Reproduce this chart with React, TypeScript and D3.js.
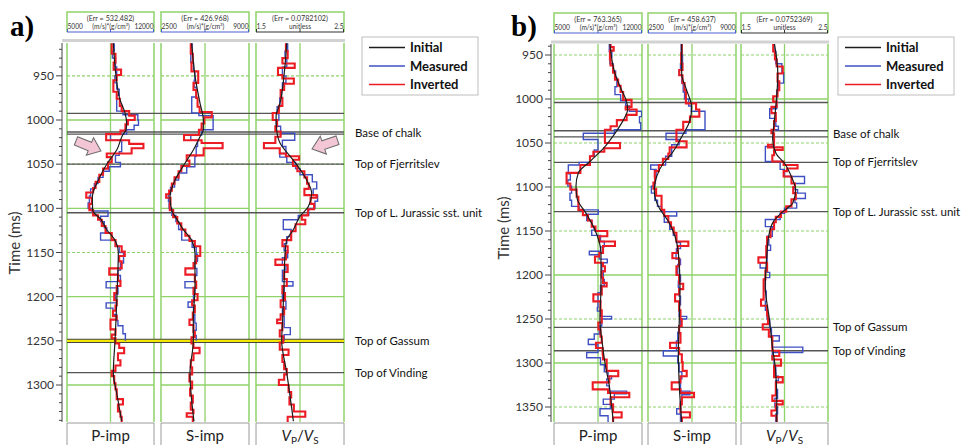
import React from 'react';
import * as d3 from 'd3';

type Pt = [number, number]; // [time ms, value]

// ---- panel a ----
const aPimpInitial: Pt[] = [[913,8728],[950,8943],[977,9265],[992,9667],[1004,9800],[1011,9750],[1017,9480],[1034,9000],[1049,8245],[1068,7520],[1087,7040],[1102,7065],[1113,7750],[1124,8190],[1136,8862],[1150,9130],[1188,9050],[1226,8943],[1250,8862],[1286,8728],[1313,9050],[1341,9400]];
const aPimpMeasured: Pt[] = [[913,8800],[922,8650],[930,8900],[940,9000],[950,8850],[958,9000],[965,9200],[972,9000],[990,9500],[994,10700],[1000,10750],[1006,10400],[1011,9800],[1016,8500],[1023,9400],[1036,9200],[1040,8900],[1048,9300],[1053,8400],[1058,7900],[1065,7500],[1072,7200],[1078,6900],[1086,6800],[1094,6700],[1100,7000],[1103,8300],[1109,7700],[1115,8000],[1122,8200],[1128,7700],[1136,8900],[1143,9200],[1150,9550],[1162,9300],[1170,9100],[1176,9300],[1183,8150],[1190,9100],[1197,8900],[1204,9000],[1207,8150],[1213,8700],[1220,9000],[1227,9100],[1233,9500],[1242,9700]];
const aPimpInverted: Pt[] = [[913,8600],[925,8900],[935,8750],[943,9350],[949,9000],[955,8730],[968,9000],[976,9250],[984,9400],[990,10000],[995,10450],[1000,9900],[1005,9700],[1012,9300],[1016,8150],[1023,10000],[1027,11150],[1032,10200],[1038,8200],[1042,8600],[1048,8300],[1055,7900],[1062,7600],[1070,7300],[1077,7100],[1082,6550],[1088,7000],[1095,6800],[1102,7100],[1108,7500],[1113,7800],[1120,8100],[1128,8600],[1136,8900],[1143,9400],[1149,9650],[1154,9200],[1160,9400],[1168,8400],[1175,9100],[1182,9300],[1188,9000],[1196,8800],[1204,9000],[1210,8900],[1216,8700],[1222,9000],[1226,8500],[1237,8900],[1243,8600],[1247,8900],[1253,9200],[1258,9600],[1264,9100],[1272,9300],[1278,8900],[1284,8600],[1290,8800],[1298,8900],[1305,9000],[1316,9500],[1322,9100],[1330,9300],[1336,9400]];

const aSimpInitial: Pt[] = [[913,4765],[950,5011],[981,5380],[1000,5627],[1011,5627],[1019,5380],[1034,4888],[1049,4272],[1068,3534],[1087,3165],[1102,3288],[1113,3700],[1124,4149],[1136,4765],[1151,5011],[1188,5011],[1226,4888],[1250,4888],[1286,4642],[1341,4937]];
const aSimpMeasured: Pt[] = [[913,4800],[925,4700],[935,4900],[945,5000],[955,4950],[963,5100],[974,4770],[992,5300],[995,6350],[1011,5500],[1017,4700],[1023,5200],[1030,5100],[1041,5000],[1053,4400],[1060,3800],[1068,3500],[1076,3200],[1084,3050],[1092,3100],[1100,3300],[1108,3600],[1115,3800],[1124,4030],[1136,4800],[1144,5100],[1152,5200],[1160,5000],[1168,5150],[1176,5000],[1183,4270],[1190,5000],[1198,4900],[1206,4500],[1212,4900],[1220,5000],[1230,5100],[1238,4950],[1244,5100]];
const aSimpInverted: Pt[] = [[913,4700],[925,4850],[935,4750],[945,5250],[958,4900],[966,5100],[975,5200],[985,5350],[991,6250],[997,5700],[1004,5500],[1011,5300],[1017,4200],[1023,5500],[1026,7050],[1032,5650],[1040,4400],[1046,4600],[1052,4000],[1058,3800],[1065,3500],[1072,3300],[1080,3100],[1084,2880],[1088,3200],[1095,3150],[1102,3400],[1110,3700],[1117,4000],[1124,4300],[1131,4600],[1137,5000],[1143,5400],[1154,5100],[1162,4900],[1168,4300],[1175,5000],[1183,5100],[1190,4900],[1197,5200],[1204,4800],[1210,5000],[1218,4850],[1226,4600],[1232,4900],[1240,5000],[1246,4750],[1253,4900],[1258,5350],[1264,4900],[1272,4700],[1280,4800],[1288,4600],[1296,4800],[1304,4650],[1312,4850],[1320,4700],[1328,4900],[1332,4400],[1336,4850]];

const aVpvsInitial: Pt[] = [[913,1.849],[950,1.818],[981,1.773],[996,1.728],[1011,1.735],[1026,1.773],[1041,1.887],[1053,1.981],[1068,2.076],[1083,2.133],[1098,2.095],[1109,2.0],[1124,1.925],[1136,1.849],[1151,1.83],[1188,1.818],[1226,1.803],[1250,1.792],[1286,1.849],[1341,1.925]];
const aVpvsMeasured: Pt[] = [[913,1.86],[922,1.83],[930,1.85],[940,1.8],[950,1.84],[958,1.8],[966,1.79],[975,1.77],[985,1.74],[993,1.76],[1000,1.73],[1007,1.78],[1015,1.94],[1023,1.8],[1030,1.84],[1038,1.77],[1042,1.85],[1048,1.95],[1055,2.0],[1062,2.14],[1070,2.19],[1078,2.15],[1085,2.2],[1092,2.17],[1100,2.1],[1108,1.98],[1113,1.81],[1124,1.9],[1132,1.85],[1140,1.82],[1148,1.86],[1156,1.8],[1164,1.84],[1170,1.8],[1183,1.92],[1188,1.82],[1196,1.8],[1205,1.84],[1214,1.8],[1222,1.82],[1235,1.89],[1243,1.82]];
const aVpvsInverted: Pt[] = [[913,1.84],[922,1.86],[930,1.8],[936,1.94],[941,1.75],[949,1.8],[953,1.93],[959,1.82],[966,1.78],[975,1.8],[984,1.76],[992,1.69],[1000,1.74],[1007,1.72],[1013,1.78],[1019,1.72],[1026,1.59],[1032,1.77],[1038,1.84],[1041,1.99],[1045,1.92],[1052,1.97],[1058,2.05],[1065,2.08],[1072,2.1],[1078,2.05],[1085,2.19],[1088,2.12],[1095,2.16],[1101,2.09],[1108,2.02],[1113,2.06],[1118,1.95],[1126,1.9],[1136,1.8],[1143,1.86],[1150,1.84],[1158,1.72],[1164,1.86],[1172,1.82],[1180,1.85],[1188,1.8],[1196,1.83],[1204,1.78],[1212,1.82],[1220,1.78],[1226,1.74],[1230,1.8],[1238,1.77],[1245,1.81],[1252,1.77],[1260,1.87],[1266,1.8],[1274,1.82],[1282,1.85],[1288,1.82],[1294,1.76],[1300,1.87],[1308,1.9],[1314,1.88],[1322,1.93],[1330,2.06],[1336,1.86]];

// ---- panel b ----
const bPimpInitial: Pt[] = [[937,9452],[971,9850],[990,10380],[1003,10777],[1012,10856],[1024,10512],[1039,9850],[1054,9055],[1071,7862],[1084,6935],[1099,6749],[1114,6855],[1128,7465],[1147,8200],[1175,8737],[1213,8737],[1250,8657],[1281,8869],[1300,9055],[1326,9399],[1349,9585],[1367,9717]];
const bPimpMeasured: Pt[] = [[937,9400],[946,9600],[952,9450],[960,9700],[968,9900],[976,10000],[986,9850],[995,10300],[1002,10700],[1008,11000],[1014,11970],[1020,11800],[1027,11900],[1035,9800],[1039,7330],[1046,8500],[1058,8200],[1065,7860],[1072,7000],[1075,6140],[1085,6300],[1092,6100],[1099,6400],[1107,6270],[1115,6400],[1122,7000],[1126,8520],[1131,7600],[1138,8000],[1145,8200],[1149,8000],[1155,8700],[1162,9000],[1168,8700],[1173,7810],[1177,8600],[1182,9240],[1186,8800],[1195,8920],[1205,9000],[1212,8700],[1220,8500],[1237,8450],[1241,8700],[1247,9580],[1250,8800],[1258,8600],[1267,8200],[1273,7730],[1279,8500],[1288,7600],[1294,8700],[1302,9000],[1310,9300],[1315,9580],[1318,9200],[1326,9400],[1332,10780],[1335,9800],[1341,8920],[1347,9500],[1352,8660],[1360,9300]];
const bPimpInverted: Pt[] = [[937,9500],[941,9750],[945,9450],[955,9500],[962,9700],[970,9850],[978,10100],[985,10300],[992,10500],[1001,11170],[1009,10700],[1012,11570],[1018,10780],[1024,10000],[1031,9500],[1035,9050],[1050,10250],[1056,9000],[1060,8130],[1065,7860],[1075,7100],[1084,6000],[1096,6300],[1103,6800],[1111,6940],[1126,7300],[1132,7700],[1138,8000],[1145,8300],[1150,9240],[1156,8600],[1162,9850],[1167,8900],[1175,8600],[1179,8260],[1186,8900],[1190,9050],[1196,8800],[1203,8900],[1209,9190],[1213,8800],[1222,8130],[1230,8700],[1240,8800],[1254,8530],[1262,8700],[1270,8800],[1277,8340],[1283,8870],[1290,8900],[1296,9190],[1309,10110],[1315,9400],[1322,8080],[1330,9300],[1334,10990],[1339,9500],[1347,9700],[1356,10380],[1362,9700]];

const bSimpInitial: Pt[] = [[937,4987],[971,4987],[990,5356],[1009,5725],[1024,5602],[1043,4987],[1062,4248],[1073,3632],[1088,3140],[1103,2968],[1122,3263],[1139,4000],[1156,4494],[1175,4740],[1213,4863],[1250,4814],[1288,4740],[1326,4814],[1367,4987]];
const bSimpMeasured: Pt[] = [[937,4950],[950,5050],[960,4900],[967,4800],[973,5000],[982,5100],[992,5200],[1000,5500],[1008,5700],[1014,6710],[1035,5300],[1039,3830],[1046,4800],[1052,4250],[1065,3800],[1075,2700],[1080,3100],[1088,3000],[1099,2750],[1107,3000],[1115,3200],[1122,3500],[1128,4620],[1133,3700],[1140,4100],[1148,4370],[1155,4600],[1163,4900],[1170,4600],[1175,4570],[1182,4900],[1188,4700],[1200,4900],[1207,4740],[1214,4800],[1224,4900],[1234,4800],[1247,5360],[1250,4900],[1258,4800],[1265,4700],[1275,4600],[1286,3630],[1292,4700],[1300,4800],[1310,5000],[1318,4900],[1332,5600],[1336,5000],[1344,4900],[1352,4620],[1358,4900]];
const bSimpInverted: Pt[] = [[937,5000],[948,4950],[960,5050],[967,4810],[973,5050],[982,5200],[990,5300],[1005,6050],[1012,6290],[1020,5600],[1026,5100],[1035,4600],[1048,5350],[1055,4100],[1062,4000],[1068,3600],[1075,3300],[1082,3000],[1089,3020],[1095,2900],[1102,3100],[1110,3500],[1126,3700],[1133,4000],[1140,4200],[1146,4400],[1152,4600],[1162,5480],[1167,4700],[1175,4300],[1181,4800],[1190,4600],[1200,4800],[1210,5100],[1216,4800],[1222,4500],[1230,4800],[1240,4900],[1250,4990],[1258,4800],[1266,4900],[1277,4130],[1283,4800],[1290,5000],[1299,5060],[1309,5360],[1315,4900],[1322,4250],[1330,4900],[1334,5900],[1339,5000],[1347,4900],[1356,5600],[1362,5000]];

const bVpvsInitial: Pt[] = [[937,1.884],[971,1.923],[997,1.911],[1024,1.884],[1046,1.864],[1062,1.903],[1073,2.0],[1088,2.078],[1103,2.128],[1118,2.097],[1128,1.981],[1139,1.874],[1156,1.818],[1175,1.799],[1213,1.779],[1250,1.826],[1284,1.864],[1307,1.896],[1341,1.911],[1367,1.911]];
const bVpvsMeasured: Pt[] = [[937,1.88],[946,1.9],[960,1.97],[970,1.99],[982,1.93],[990,1.91],[1011,1.83],[1022,1.9],[1031,1.93],[1035,1.87],[1044,1.88],[1054,1.78],[1071,1.95],[1080,2.0],[1088,2.23],[1096,2.12],[1103,2.15],[1107,2.24],[1113,2.12],[1118,2.14],[1124,2.0],[1130,1.95],[1137,1.78],[1145,1.86],[1156,1.8],[1160,1.82],[1166,1.84],[1172,1.8],[1186,1.72],[1192,1.8],[1197,1.83],[1203,1.78],[1218,1.79],[1230,1.78],[1240,1.8],[1250,1.83],[1260,1.85],[1269,1.94],[1275,1.86],[1282,2.21],[1288,1.86],[1296,1.88],[1305,1.9],[1315,1.93],[1320,1.9],[1330,1.92],[1340,1.89],[1350,1.92],[1358,1.9]];
const bVpvsInverted: Pt[] = [[937,1.87],[946,1.89],[955,1.91],[963,1.98],[971,1.92],[980,1.94],[990,1.92],[997,1.87],[1003,1.91],[1009,1.85],[1016,1.9],[1025,1.88],[1035,1.85],[1039,1.88],[1052,1.81],[1055,1.98],[1058,1.88],[1064,1.86],[1071,1.99],[1075,2.15],[1079,2.03],[1082,1.99],[1088,2.08],[1096,2.12],[1100,2.1],[1107,2.13],[1114,2.08],[1122,2.02],[1128,1.96],[1134,1.9],[1140,1.88],[1148,1.84],[1157,1.8],[1167,1.79],[1180,1.7],[1186,1.8],[1195,1.78],[1205,1.76],[1228,1.73],[1235,1.8],[1246,1.81],[1256,1.75],[1262,1.82],[1270,1.86],[1286,1.94],[1292,1.86],[1296,1.96],[1303,1.88],[1316,1.98],[1322,1.9],[1337,1.86],[1343,1.98],[1347,1.9],[1354,1.85],[1360,1.91]];

// horizons (ms)
const aHorizons = [992.5, 1013.5, 1016, 1050, 1105, 1286];
const aGassum = 1250;
const aMarkers: [string, number][] = [['Base of chalk', 1015], ['Top of Fjerritslev', 1050], ['Top of L. Jurassic sst. unit', 1105], ['Top of Gassum', 1250], ['Top of Vinding', 1286]];
const bHorizons = [1004, 1036, 1043, 1072, 1128, 1259.5, 1286];
const bMarkers: [string, number][] = [['Base of chalk', 1040], ['Top of Fjerritslev', 1072], ['Top of L. Jurassic sst. unit', 1128], ['Top of Gassum', 1259.5], ['Top of Vinding', 1286]];

const aErr = ['532.482', '426.968', '0.0782102'];
const bErr = ['763.365', '458.637', '0.0752369'];
const trackDomains: [number, number][] = [[5000, 12000], [2500, 9000], [1.5, 2.5]];
const trackUnits = ['(m/s)*(g/cm³)', '(m/s)*(g/cm³)', 'unitless'];
const legendNames = ['Initial', 'Measured', 'Inverted'];

const FONT = 'Lato, "Open Sans", sans-serif';
const GREEN = '#8fd26a';
const RED = '#ec1c24';
const BLUE = '#3e50c2';
const BLACK = '#1c1c1c';
const AXBLUE = '#4a5fd0';

type TrackCfg = { left: number; right: number; initial: Pt[]; measured: Pt[]; inverted: Pt[] };
type PanelCfg = {
  id: string; label: string; labelX: number; axisX: number;
  y: d3.ScaleLinear<number, number>; top: number; bottom: number;
  hTop: number; hAxis: number; barY: number;
  tracks: TrackCfg[]; err: string[]; measuredEnd: number;
  horizons: number[]; gassum?: number; markers: [string, number][]; markerX: number;
  legendX: number; timeLabelY: number; arrows?: { x: number; y: number; a: number }[];
};

const panels: PanelCfg[] = [
  {
    id: 'a', label: 'a)', labelX: 10, axisX: 62,
    y: d3.scaleLinear().domain([1000, 1300]).range([120, 385]), top: 43, bottom: 422,
    hTop: 12, hAxis: 32, barY: 40.5,
    tracks: [
      { left: 67, right: 154, initial: aPimpInitial, measured: aPimpMeasured, inverted: aPimpInverted },
      { left: 161, right: 249, initial: aSimpInitial, measured: aSimpMeasured, inverted: aSimpInverted },
      { left: 256, right: 344, initial: aVpvsInitial, measured: aVpvsMeasured, inverted: aVpvsInverted },
    ],
    err: aErr, measuredEnd: 1250, horizons: aHorizons, gassum: aGassum, markers: aMarkers, markerX: 355,
    legendX: 362, timeLabelY: 243,
    arrows: [{ x: 101, y: 151, a: 22 }, { x: 312, y: 149, a: 161 }],
  },
  {
    id: 'b', label: 'b)', labelX: 511, axisX: 551,
    y: d3.scaleLinear().domain([1000, 1350]).range([99, 407]), top: 44, bottom: 422,
    hTop: 13, hAxis: 33, barY: 42,
    tracks: [
      { left: 554, right: 642, initial: bPimpInitial, measured: bPimpMeasured, inverted: bPimpInverted },
      { left: 648, right: 736, initial: bSimpInitial, measured: bSimpMeasured, inverted: bSimpInverted },
      { left: 741, right: 828, initial: bVpvsInitial, measured: bVpvsMeasured, inverted: bVpvsInverted },
    ],
    err: bErr, measuredEnd: 0, horizons: bHorizons, markers: bMarkers, markerX: 833,
    legendX: 838, timeLabelY: 228,
  },
];

const arrowPath = 'M-27,-4.5L-12,-4.5L-12,-9.5L0,0L-12,9.5L-12,4.5L-27,4.5Z';

function Panel({ p }: { p: PanelCfg }) {
  const tStart = p.y.invert(p.top);
  const tEnd = p.y.invert(p.bottom);
  const majors = d3.range(950, tEnd, 50);
  const minors = d3.range(Math.ceil(tStart / 10) * 10, tEnd, 10);
  const leftEdge = p.tracks[0].left;
  const rightEdge = p.tracks[2].right;
  return (
    <g>
      <text x={p.labelX} y={36} fontFamily='"Liberation Serif", serif' fontWeight="bold" fontSize={29}>{p.label}</text>

      {/* headers */}
      {p.tracks.map((tr, i) => {
        const mid = (tr.left + tr.right) / 2;
        const ac = i < 2 ? AXBLUE : '#333';
        return (
          <g key={'h' + i} fontFamily={FONT} fill="#333">
            <path d={`M${tr.left},${p.hAxis}V${p.hTop}H${tr.right}V${p.hAxis}`} fill="none" stroke={GREEN} strokeWidth={1.5} />
            <line x1={tr.left} x2={tr.right} y1={p.hAxis} y2={p.hAxis} stroke={ac} strokeWidth={1.2} />
            {[tr.left + 0.5, mid, tr.right - 0.5].map((x, k) => (
              <line key={k} x1={x} x2={x} y1={p.hAxis} y2={p.hAxis - 3} stroke={ac} strokeWidth={1} />
            ))}
            <text x={mid} y={p.hTop + 8.5} fontSize={7.2} textAnchor="middle">(Err = {p.err[i]})</text>
            <text x={tr.left + 0.5} y={p.hTop + 17} fontSize={6.6}>{trackDomains[i][0]}</text>
            <text x={mid + (i < 2 ? 0.5 : 0)} y={p.hTop + 17} fontSize={6.6} textAnchor="middle">{trackUnits[i]}</text>
            <text x={tr.right - 0.5} y={p.hTop + 17} fontSize={6.6} textAnchor="end">{trackDomains[i][1]}</text>
          </g>
        );
      })}
      <line x1={p.axisX} x2={rightEdge + 1} y1={p.barY} y2={p.barY} stroke="#d2d2d2" strokeWidth={3} />

      {/* y axis */}
      <line x1={p.axisX} x2={p.axisX} y1={p.top} y2={p.bottom} stroke="#444" strokeWidth={1} />
      {minors.map(t => (
        <line key={'m' + t} x1={p.axisX - (t % 50 === 0 ? 6 : 3)} x2={p.axisX} y1={p.y(t)} y2={p.y(t)} stroke="#444" strokeWidth={1} />
      ))}
      {majors.map(t => (
        <text key={'l' + t} x={p.axisX - 8} y={p.y(t) + 4} fontFamily={FONT} fontSize={12} textAnchor="end" fill="#333">{t}</text>
      ))}
      <text transform={`translate(${p.axisX - 42},${p.timeLabelY}) rotate(-90)`} fontFamily={FONT} fontSize={15} textAnchor="middle" fill="#333">Time (ms)</text>

      {/* track frames and grid */}
      {p.tracks.map((tr, i) => {
        const x = d3.scaleLinear().domain(trackDomains[i]).range([tr.left, tr.right]);
        const yy = p.y;
        const clip = `clip-${p.id}-${i}`;
        const mid = x((trackDomains[i][0] + trackDomains[i][1]) / 2);
        return (
          <g key={'t' + i}>
            <clipPath id={clip}><rect x={tr.left} y={p.top} width={tr.right - tr.left} height={p.bottom - p.top} /></clipPath>
            {majors.map(t => (
              <line key={t} x1={tr.left} x2={tr.right} y1={yy(t)} y2={yy(t)} stroke={GREEN}
                strokeWidth={t % 100 === 0 ? 1.4 : 1.1} strokeDasharray={t % 100 === 0 ? undefined : '3,2'} />
            ))}
            <line x1={mid} x2={mid} y1={p.top} y2={p.bottom} stroke={GREEN} strokeWidth={1.3} />
            <line x1={tr.left} x2={tr.left} y1={p.top} y2={p.bottom} stroke={GREEN} strokeWidth={1.5} />
            <line x1={tr.right} x2={tr.right} y1={p.top} y2={p.bottom} stroke={GREEN} strokeWidth={1.5} />
          </g>
        );
      })}

      {/* horizons */}
      {p.horizons.map((t, k) => (
        <line key={'z' + k} x1={leftEdge} x2={rightEdge} y1={p.y(t)} y2={p.y(t)} stroke="#555" strokeWidth={1.4} />
      ))}
      {p.gassum !== undefined && (
        <g>
          <line x1={leftEdge} x2={rightEdge} y1={p.y(p.gassum)} y2={p.y(p.gassum)} stroke="#444" strokeWidth={4.2} />
          <line x1={leftEdge} x2={rightEdge} y1={p.y(p.gassum)} y2={p.y(p.gassum)} stroke="#f2e600" strokeWidth={2.2} />
        </g>
      )}

      {/* curves */}
      {p.tracks.map((tr, i) => {
        const x = d3.scaleLinear().domain(trackDomains[i]).range([tr.left, tr.right]);
        const yy = p.y;
        const smooth = d3.line<Pt>().x(d => x(d[1])).y(d => yy(d[0])).curve(d3.curveMonotoneY);
        const step = d3.line<Pt>().x(d => x(d[1])).y(d => yy(d[0])).curve(d3.curveStepBefore);
        const mEnd = p.measuredEnd || tEnd;
        const meas: Pt[] = [...tr.measured, [mEnd, tr.measured[tr.measured.length - 1][1]]];
        const inv: Pt[] = [...tr.inverted, [tEnd, tr.inverted[tr.inverted.length - 1][1]]];
        const clip = `clip-${p.id}-${i}`;
        return (
          <g key={'c' + i} clipPath={`url(#${clip})`} fill="none">
            <path d={step(meas) || ''} stroke={BLUE} strokeWidth={1.4} />
            <path d={step(inv) || ''} stroke={RED} strokeWidth={2.1} />
            <path d={smooth(tr.initial) || ''} stroke={BLACK} strokeWidth={1.2} />
          </g>
        );
      })}

      {/* marker labels */}
      {p.markers.map(([name, t]) => (
        <text key={name} x={p.markerX} y={p.y(t) + 4} fontFamily={FONT} fontSize={11.5} fill="#111">{name}</text>
      ))}

      {/* legend */}
      <g fontFamily={FONT}>
        <rect x={p.legendX} y={37} width={116} height={58} fill="#fff" stroke="#bdbdbd" strokeWidth={1} />
        {legendNames.map((n, k) => {
          const ly = 47.5 + k * 18.5;
          return (
            <g key={n}>
              <line x1={p.legendX + 7} x2={p.legendX + 43} y1={ly} y2={ly} stroke={[BLACK, BLUE, RED][k]} strokeWidth={1.3} />
              <text x={p.legendX + 48} y={ly + 4.5} fontSize={13} fontWeight="bold" fill="#111">{n}</text>
            </g>
          );
        })}
      </g>

      {/* arrows */}
      {(p.arrows || []).map((a, k) => (
        <path key={'a' + k} d={arrowPath} transform={`translate(${a.x},${a.y}) rotate(${a.a})`}
          fill="#f3c6d6" stroke="#6b6b6b" strokeWidth={1} />
      ))}

      {/* bottom track labels */}
      {p.tracks.map((tr, i) => {
        const mid = (tr.left + tr.right) / 2;
        return (
          <g key={'b' + i} fontFamily={FONT}>
            <path d={`M${tr.left},450V${p.bottom + 1}H${tr.right}V450`} fill="none" stroke="#9a9a9a" strokeWidth={1} />
            {i < 2 ? (
              <text x={mid} y={441} fontSize={15} textAnchor="middle" fill="#222">{i === 0 ? 'P-imp' : 'S-imp'}</text>
            ) : (
              <text x={mid} y={441} fontSize={15} textAnchor="middle" fill="#222">
                <tspan fontStyle="italic">V</tspan><tspan fontSize={10} dy={3}>P</tspan>
                <tspan dy={-3}>/</tspan><tspan fontStyle="italic">V</tspan><tspan fontSize={10} dy={3}>S</tspan>
              </text>
            )}
          </g>
        );
      })}
    </g>
  );
}

export default function App() {
  return (
    <svg width={963} height={445} style={{ position: 'absolute', left: 0, top: 0, background: '#fff' }}>
      <rect width={963} height={445} fill="#fff" />
      {panels.map(p => <Panel key={p.id} p={p} />)}
    </svg>
  );
}
